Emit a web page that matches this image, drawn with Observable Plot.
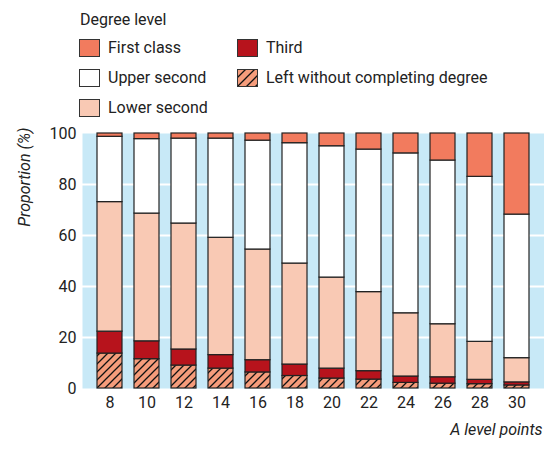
<!DOCTYPE html>
<html>
<head>
<meta charset="utf-8">
<script src="https://cdn.jsdelivr.net/npm/d3@7"></script>
<script src="https://cdn.jsdelivr.net/npm/@observablehq/plot@0.6"></script>
<style>
  body { margin: 0; background: #fff; font-family: Roboto, "Liberation Sans", sans-serif; }
  #wrap { position: relative; width: 544px; height: 449px; }
  #legend { position: relative; height: 125px; font-size: 16px; color: #222; }
  #legend .title { position: absolute; left: 80px; top: 10px; }
  .item { position: absolute; display: flex; align-items: center; }
  .item svg { margin-right: 8px; }
  #chart { position: absolute; left: 0; top: 125px; }
  #chart svg { overflow: visible; }
</style>
</head>
<body>
<div id="wrap">
  <div id="legend"></div>
  <div id="chart"></div>
</div>
<script>
const points = ["8", "10", "12", "14", "16", "18", "20", "22", "24", "26", "28", "30"];
const seriesNames = ["Left without completing degree", "Third", "Lower second", "Upper second", "First class"];
const leftWithout = [13.7, 11.5, 9.0, 7.8, 6.3, 4.9, 3.9, 3.5, 2.2, 1.9, 1.7, 1.2];
const third       = [8.6, 7.0, 6.3, 5.3, 4.8, 4.5, 3.9, 3.3, 2.5, 2.5, 1.7, 1.2];
const lowerSecond = [50.8, 50.1, 49.4, 46.0, 43.4, 39.6, 35.7, 31.0, 24.8, 20.8, 14.9, 9.5];
const upperSecond = [25.6, 29.2, 33.3, 38.9, 42.7, 47.2, 51.5, 55.9, 62.7, 64.2, 64.7, 56.3];
const firstClass  = [1.3, 2.2, 2.0, 2.0, 2.8, 3.8, 5.0, 6.3, 7.8, 10.6, 17.0, 31.8];
const yTicks = [0, 20, 40, 60, 80, 100];

const seriesValues = [leftWithout, third, lowerSecond, upperSecond, firstClass];
const fills = {
  "Left without completing degree": "url(#hatch)",
  "Third": "#b7131c",
  "Lower second": "#f9c9b4",
  "Upper second": "#ffffff",
  "First class": "#f27b5e"
};

const data = [];
seriesNames.forEach((s, si) => {
  points.forEach((p, i) => data.push({ points: p, series: s, value: seriesValues[si][i], order: si }));
});

const font = 'Roboto, "Liberation Sans", sans-serif';

const chart = Plot.plot({
  width: 544,
  height: 324,
  marginLeft: 82,
  marginRight: 0,
  marginTop: 8,
  marginBottom: 61,
  style: { fontFamily: font, fontSize: "16px", color: "#222", background: "transparent", overflow: "visible" },
  x: { domain: points, padding: 0.32, label: null, tickSize: 0, tickPadding: 8 },
  y: { domain: [0, 100], ticks: yTicks, label: null, tickSize: 0, tickPadding: 6 },
  marks: [
    Plot.frame({ fill: "#c8e9f7", stroke: null }),
    Plot.gridY([20, 40, 60, 80], { stroke: "#ffffff", strokeOpacity: 1, strokeWidth: 2 }),
    Plot.barY(data, Plot.stackY({
      x: "points",
      y: "value",
      z: "series",
      order: "order",
      fill: d => fills[d.series],
      stroke: "#222",
      strokeWidth: 1.2,
      inset: 0
    })),
    Plot.axisX({ tickSize: 0, tickPadding: 8, label: null, fontSize: 16 }),
    Plot.axisY({ ticks: yTicks, tickSize: 0, tickPadding: 6, label: null, fontSize: 16 }),
    Plot.text(["A level points"], { frameAnchor: "bottom-right", dx: -2, dy: 46, fontStyle: "italic", fontSize: 16, textAnchor: "end" }),
    Plot.text(["Proportion (%)"], { frameAnchor: "top-left", dx: -64, dy: -6, rotate: -90, fontStyle: "italic", fontSize: 16, textAnchor: "end" })
  ]
});

// hatch pattern definition
const ns = "http://www.w3.org/2000/svg";
function addHatch(svg, id) {
  const defs = document.createElementNS(ns, "defs");
  defs.innerHTML = `<pattern id="${id}" patternUnits="userSpaceOnUse" width="8" height="8">
      <rect width="8" height="8" fill="#f59c7b"/>
      <path d="M-2,2 L2,-2 M0,8 L8,0 M6,10 L10,6" stroke="#111" stroke-width="1.3"/>
    </pattern>`;
  svg.insertBefore(defs, svg.firstChild);
}
addHatch(chart, "hatch");
document.getElementById("chart").appendChild(chart);

// legend
const legend = document.getElementById("legend");
const title = document.createElement("div");
title.className = "title";
title.textContent = "Degree level";
legend.appendChild(title);
const legendItems = [
  { name: "First class", col: 0, row: 0 },
  { name: "Upper second", col: 0, row: 1 },
  { name: "Lower second", col: 0, row: 2 },
  { name: "Third", col: 1, row: 0 },
  { name: "Left without completing degree", col: 1, row: 1 }
];
legendItems.forEach(it => {
  const d = document.createElement("div");
  d.className = "item";
  d.style.left = (it.col ? 237 : 79) + "px";
  d.style.top = (38 + it.row * 30) + "px";
  const sw = document.createElementNS(ns, "svg");
  sw.setAttribute("width", 21);
  sw.setAttribute("height", 18);
  const pid = "hatchL";
  if (fills[it.name].startsWith("url")) {
    sw.innerHTML = `<defs><pattern id="${pid}" patternUnits="userSpaceOnUse" width="9" height="9">
      <rect width="9" height="9" fill="#f59c7b"/>
      <path d="M-2,2 L2,-2 M0,9 L9,0 M7,11 L11,7" stroke="#111" stroke-width="1.3"/></pattern></defs>
      <rect x="0.5" y="0.5" width="20" height="17" fill="url(#${pid})" stroke="#333" stroke-width="1"/>`;
  } else {
    sw.innerHTML = `<rect x="0.5" y="0.5" width="20" height="17" fill="${fills[it.name]}" stroke="#333" stroke-width="1"/>`;
  }
  d.appendChild(sw);
  const t = document.createElement("span");
  t.textContent = it.name;
  d.appendChild(t);
  legend.appendChild(d);
});
</script>
</body>
</html>
